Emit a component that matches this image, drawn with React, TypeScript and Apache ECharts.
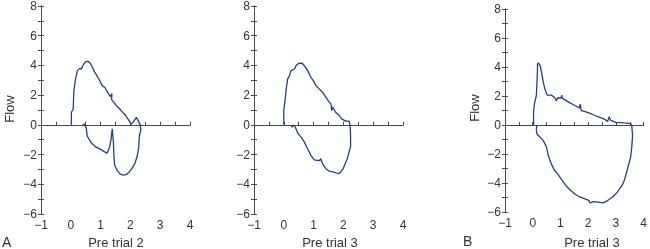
import React, { useEffect, useRef } from "react";
import * as echarts from "echarts";

// Volume (x) / Flow (y) loops
const loopPreTrial2A: [number, number][] = [
  [0.02, 0], [0.02, 0.85], [0.08, 1.05], [0.1, 2.2], [0.15, 3.0], [0.22, 3.65], [0.3, 3.8], [0.35, 3.75],
  [0.42, 4.05], [0.5, 4.25], [0.58, 4.28], [0.65, 4.15], [0.72, 3.9], [0.8, 3.55], [0.85, 3.4], [0.92, 3.15],
  [0.98, 2.95], [1.02, 2.75], [1.08, 2.6], [1.15, 2.5], [1.2, 2.3], [1.28, 2.05], [1.33, 1.9], [1.38, 2.1],
  [1.37, 1.7], [1.45, 1.5], [1.55, 1.25], [1.65, 1.05], [1.75, 0.82], [1.82, 0.7], [1.88, 0.5], [1.95, 0.3],
  [2.03, 0.05], [2.1, 0.2], [2.2, 0.5], [2.27, 0.25], [2.33, 0], [2.35, -0.35], [2.3, -0.75], [2.28, -1.5],
  [2.23, -2.1], [2.15, -2.6], [2.05, -2.95], [1.95, -3.2], [1.85, -3.35], [1.75, -3.38], [1.65, -3.3],
  [1.55, -3.05], [1.47, -2.7], [1.45, -2.2], [1.43, -1.2], [1.39, -0.27], [1.35, -1.0], [1.3, -1.5],
  [1.22, -1.9], [1.12, -1.8], [1.0, -1.65], [0.85, -1.5], [0.68, -1.2], [0.55, -0.75], [0.52, -0.2],
  [0.45, 0.05], [0.4, 0],
];

const loopPreTrial3A: [number, number][] = [
  [0, 0], [0, 0.96], [0.04, 1.63], [0.08, 2.4], [0.13, 3.1], [0.19, 3.3], [0.24, 3.65], [0.36, 3.76],
  [0.41, 3.98], [0.5, 4.14], [0.61, 4.16], [0.69, 3.98], [0.8, 3.65], [0.91, 3.2], [0.99, 2.98], [1.08, 2.64],
  [1.19, 2.42], [1.3, 2.2], [1.41, 1.86], [1.5, 1.6], [1.58, 1.41], [1.61, 0.96], [1.64, 1.2], [1.74, 0.85],
  [1.86, 0.63], [1.94, 0.4], [2.08, 0.25], [2.19, 0.25], [2.22, 0], [2.24, -0.6], [2.24, -1.5], [2.19, -1.83],
  [2.13, -2.28], [2.06, -2.62], [1.99, -2.95], [1.91, -3.18], [1.83, -3.29], [1.69, -3.18], [1.52, -3.11],
  [1.41, -2.95], [1.3, -2.62], [1.24, -2.28], [1.2, -2.4], [1.13, -2.39], [1.02, -2.35], [0.91, -2.06],
  [0.8, -1.61], [0.69, -1.16], [0.58, -0.83], [0.47, -0.56], [0.41, -0.27], [0.37, -0.1], [0.32, -0.02],
  [0.28, -0.16], [0.25, -0.05],
];

const loopPreTrial3B: [number, number][] = [
  [0.03, 0], [0.03, 0.99], [0.07, 1.56], [0.13, 2.02], [0.15, 2.82], [0.17, 3.74], [0.17, 4.2], [0.21, 4.27],
  [0.27, 4.08], [0.32, 3.62], [0.38, 2.94], [0.44, 2.48], [0.52, 2.06], [0.67, 2.06], [0.79, 1.9], [0.85, 1.67],
  [0.9, 1.88], [1.02, 1.86], [1.05, 2.05], [1.06, 1.85], [1.31, 1.56], [1.54, 1.33], [1.68, 1.17], [1.71, 1.44],
  [1.75, 0.99], [1.89, 0.92], [2.12, 0.76], [2.35, 0.57], [2.58, 0.41], [2.7, 0.25], [2.76, 0.57], [2.8, 0.34],
  [2.99, 0.18], [3.28, 0.14], [3.51, 0.11], [3.57, 0], [3.6, -0.73], [3.57, -1.54], [3.53, -2.22], [3.45, -2.8],
  [3.37, -3.37], [3.3, -3.83], [3.22, -4.17], [3.05, -4.63], [2.87, -4.98], [2.7, -5.21], [2.53, -5.37],
  [2.35, -5.32], [2.18, -5.28], [2.06, -5.37], [2.03, -5.21], [1.89, -5.09], [1.71, -4.98], [1.54, -4.79],
  [1.37, -4.52], [1.19, -4.17], [1.02, -3.72], [0.9, -3.37], [0.79, -3.14], [0.67, -2.68], [0.56, -2.11],
  [0.5, -1.54], [0.38, -1.08], [0.27, -0.85], [0.15, -0.62], [0.13, -0.28], [0.15, 0],
];

const xAxisLabels = ["-1", "0", "1", "2", "3", "4"];
const yAxisLabels = ["-6", "-4", "-2", "0", "2", "4", "6", "8"];
const volumeTitles = ["Pre trial 2", "Pre trial 3", "Pre trial 3"];
const panelLetters = ["A", "B"];
const flowTitle = "Flow";

const X_MIN = -1, X_MAX = 4, Y_MIN = -6, Y_MAX = 8;
const FONT = "'Liberation Sans', Arial, sans-serif";
const AXIS_COLOR = "#4a4a4a";
const TEXT_COLOR = "#333";
const LINE_COLOR = "#25407e";

const grids = [
  { left: 41, top: 5, width: 149, height: 209 },
  { left: 254, top: 5, width: 149, height: 209 },
  { left: 505, top: 9, width: 142, height: 203 },
];

const fmt = (v: number) => String(v).replace("-", "\u2212");

export default function App() {
  const ref = useRef<HTMLDivElement>(null);
  useEffect(() => {
    if (!ref.current) return;
    const chart = echarts.init(ref.current, undefined, { renderer: "svg" });
    const loops = [loopPreTrial2A, loopPreTrial3A, loopPreTrial3B];
    const xAxes: any[] = [];
    const yAxes: any[] = [];
    const series: any[] = [];
    grids.forEach((g, i) => {
      const lineStyle = { color: AXIS_COLOR, width: 1 };
      // zero-line x axis, ticks inside
      xAxes.push({
        gridIndex: i, type: "value", min: X_MIN, max: X_MAX, interval: 0.5,
        axisLine: { show: true, onZero: true, lineStyle },
        axisTick: { show: true, inside: true, length: 3, lineStyle },
        axisLabel: { show: false }, splitLine: { show: false },
      });
      // zero-line x axis, ticks outside
      xAxes.push({
        gridIndex: i, type: "value", min: X_MIN, max: X_MAX, interval: 0.5,
        axisLine: { show: true, onZero: true, lineStyle },
        axisTick: { show: true, inside: false, length: 3, lineStyle },
        axisLabel: { show: false }, splitLine: { show: false },
      });
      // bottom label axis
      xAxes.push({
        gridIndex: i, type: "value", position: "bottom", min: X_MIN, max: X_MAX, interval: 1,
        axisLine: { show: false, onZero: false }, axisTick: { show: false },
        axisLabel: {
          show: true, margin: 5, color: TEXT_COLOR, fontSize: 12, fontFamily: FONT,
          formatter: (v: number) => {
            const s = String(Math.round(v));
            return xAxisLabels.includes(s) ? fmt(Math.round(v)) : "";
          },
        },
        splitLine: { show: false },
      });
      yAxes.push({
        gridIndex: i, type: "value", position: "left", min: Y_MIN, max: Y_MAX, interval: 1,
        axisLine: { show: true, onZero: false, lineStyle },
        axisTick: { show: true, inside: false, length: 3, lineStyle },
        axisLabel: {
          show: true, margin: 4, color: TEXT_COLOR, fontSize: 12, fontFamily: FONT,
          formatter: (v: number) => {
            const s = String(Math.round(v));
            return yAxisLabels.includes(s) ? fmt(Math.round(v)) : "";
          },
        },
        splitLine: { show: false },
      });
      yAxes.push({
        gridIndex: i, type: "value", position: "left", min: Y_MIN, max: Y_MAX, interval: 1,
        axisLine: { show: true, onZero: false, lineStyle },
        axisTick: { show: true, inside: true, length: 3, lineStyle },
        axisLabel: { show: false }, splitLine: { show: false },
      });
      series.push({
        type: "line", xAxisIndex: i * 3, yAxisIndex: i * 2, data: loops[i],
        showSymbol: false, symbol: "none", smooth: false,
        lineStyle: { color: LINE_COLOR, width: 1.3 }, z: 5,
      });
    });

    const textStyle = (text: string) => ({ text, fill: TEXT_COLOR, fontSize: 13, fontFamily: FONT });
    chart.setOption({
      animation: false,
      grid: grids.map((g) => ({ ...g, containLabel: false })),
      xAxis: xAxes,
      yAxis: yAxes,
      series,
      graphic: [
        { type: "text", x: 9, y: 109, rotation: Math.PI / 2, style: { ...textStyle(flowTitle), align: "center", verticalAlign: "middle" } },
        { type: "text", x: 474, y: 108, rotation: Math.PI / 2, style: { ...textStyle(flowTitle), align: "center", verticalAlign: "middle" } },
        { type: "text", x: 116, y: 242, style: { ...textStyle(volumeTitles[0]), align: "center", verticalAlign: "middle" } },
        { type: "text", x: 330, y: 242, style: { ...textStyle(volumeTitles[1]), align: "center", verticalAlign: "middle" } },
        { type: "text", x: 592, y: 242, style: { ...textStyle(volumeTitles[2]), align: "center", verticalAlign: "middle" } },
        { type: "text", x: 2, y: 242, style: { ...textStyle(panelLetters[0]), fontSize: 14, align: "left", verticalAlign: "middle" } },
        { type: "text", x: 463, y: 241, style: { ...textStyle(panelLetters[1]), fontSize: 14, align: "left", verticalAlign: "middle" } },
      ],
    });
    return () => chart.dispose();
  }, []);
  return <div ref={ref} style={{ position: "fixed", left: 0, top: 0, width: 650, height: 249 }} />;
}
